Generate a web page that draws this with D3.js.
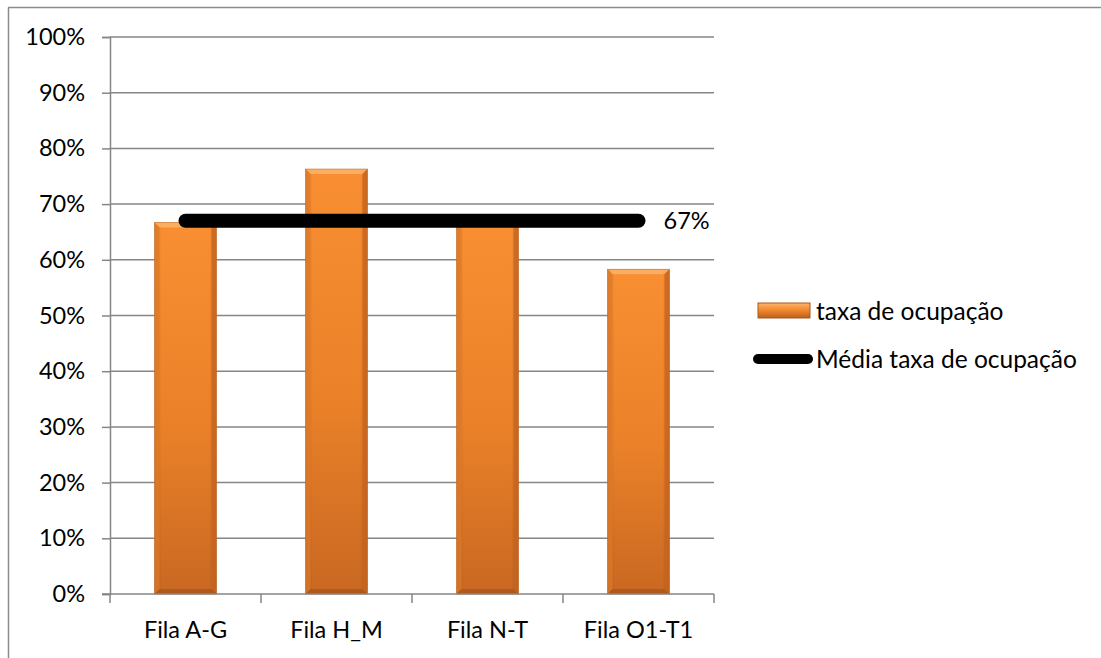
<!DOCTYPE html>
<html>
<head>
<meta charset="utf-8">
<script src="https://cdn.jsdelivr.net/npm/d3@7"></script>
<style>
  html, body { margin: 0; padding: 0; background: #fff; }
  svg { display: block; font-family: Lato, "Noto Sans", sans-serif; }
</style>
</head>
<body>
<svg id="chart" width="1101" height="658"></svg>
<script>
// Occupancy rate by row group
const categories = ["Fila A-G", "Fila H_M", "Fila N-T", "Fila O1-T1"];
const taxaOcupacao = [0.667, 0.763, 0.667, 0.583];
const mediaTaxa = [0.67, 0.67, 0.67, 0.67];
const yTicks = [0, 0.1, 0.2, 0.3, 0.4, 0.5, 0.6, 0.7, 0.8, 0.9, 1.0];
const seriesNames = ["taxa de ocupação", "Média taxa de ocupação"];

const svg = d3.select("#chart");
const W = 1101, H = 658;
const plot = { left: 110, right: 714, top: 37, bottom: 594 };
const fontSize = 23.5;
const legendFontSize = 24.5;
const axisColor = "#868686";

// chart frame (top and left edges visible)
svg.append("line").attr("x1", 8.5).attr("x2", 8.5).attr("y1", 7.5).attr("y2", H)
  .attr("stroke", "#8c8c8c").attr("stroke-width", 1.5);
svg.append("line").attr("x1", 8).attr("x2", W).attr("y1", 7.5).attr("y2", 7.5)
  .attr("stroke", "#8c8c8c").attr("stroke-width", 1.5);

const x = d3.scaleBand().domain(categories).range([plot.left, plot.right])
  .paddingInner(0.59).paddingOuter(0.295);
const y = d3.scaleLinear().domain([0, 1]).range([plot.bottom, plot.top]);

// gradients for bevelled bars
const defs = svg.append("defs");
const gBody = defs.append("linearGradient").attr("id", "barBody")
  .attr("x1", 0).attr("y1", 0).attr("x2", 0).attr("y2", 1);
gBody.append("stop").attr("offset", "0%").attr("stop-color", "#f98f32");
gBody.append("stop").attr("offset", "55%").attr("stop-color", "#ea8129");
gBody.append("stop").attr("offset", "100%").attr("stop-color", "#c96822");
const gSide = defs.append("linearGradient").attr("id", "barSide")
  .attr("x1", 0).attr("y1", 0).attr("x2", 1).attr("y2", 0);
gSide.append("stop").attr("offset", "0%").attr("stop-color", "#000").attr("stop-opacity", 0.12);
gSide.append("stop").attr("offset", "12%").attr("stop-color", "#000").attr("stop-opacity", 0);
gSide.append("stop").attr("offset", "88%").attr("stop-color", "#000").attr("stop-opacity", 0);
gSide.append("stop").attr("offset", "100%").attr("stop-color", "#000").attr("stop-opacity", 0.15);
const gLeg = defs.append("linearGradient").attr("id", "legBody")
  .attr("x1", 0).attr("y1", 0).attr("x2", 0).attr("y2", 1);
gLeg.append("stop").attr("offset", "0%").attr("stop-color", "#fbb66e");
gLeg.append("stop").attr("offset", "45%").attr("stop-color", "#f48a2e");
gLeg.append("stop").attr("offset", "100%").attr("stop-color", "#b8601f");

// gridlines + y axis
const yAxis = d3.axisLeft(y).tickValues(yTicks).tickFormat(d3.format(".0%"))
  .tickSize(8).tickPadding(17);
const yG = svg.append("g").attr("transform", `translate(${plot.left},0)`).call(yAxis);
yG.select(".domain").attr("stroke", axisColor).attr("stroke-width", 1.5);
yG.selectAll(".tick line").attr("stroke", axisColor).attr("stroke-width", 1.5);
yG.selectAll(".tick text").attr("font-size", fontSize).attr("fill", "#000")
  .attr("font-family", "Lato, sans-serif");
svg.append("g").selectAll("line").data(yTicks.filter(d => d > 0)).join("line")
  .attr("x1", plot.left).attr("x2", plot.right)
  .attr("y1", d => y(d)).attr("y2", d => y(d))
  .attr("stroke", axisColor).attr("stroke-width", 1.5);

// bars
const bevel = 5;
const bars = svg.append("g").selectAll("g").data(categories.map((c, i) => ({ c, v: taxaOcupacao[i] })))
  .join("g");
bars.append("rect")
  .attr("x", d => x(d.c)).attr("y", d => y(d.v))
  .attr("width", x.bandwidth()).attr("height", d => y(0) - y(d.v))
  .attr("fill", "url(#barBody)");
bars.append("rect")
  .attr("x", d => x(d.c)).attr("y", d => y(d.v))
  .attr("width", x.bandwidth()).attr("height", d => y(0) - y(d.v))
  .attr("fill", "url(#barSide)");
// top bevel
bars.append("path")
  .attr("d", d => {
    const x0 = x(d.c), x1 = x0 + x.bandwidth(), t = y(d.v);
    return `M${x0},${t}L${x1},${t}L${x1 - bevel},${t + bevel}L${x0 + bevel},${t + bevel}Z`;
  })
  .attr("fill", "#fbb066").attr("opacity", 0.9);
// left / right bevel
bars.append("path")
  .attr("d", d => {
    const x0 = x(d.c), t = y(d.v), b = y(0);
    return `M${x0},${t}L${x0 + bevel},${t + bevel}L${x0 + bevel},${b - bevel}L${x0},${b}Z`;
  })
  .attr("fill", "#e07a28").attr("opacity", 0.7);
bars.append("path")
  .attr("d", d => {
    const x1 = x(d.c) + x.bandwidth(), t = y(d.v), b = y(0);
    return `M${x1},${t}L${x1 - bevel},${t + bevel}L${x1 - bevel},${b - bevel}L${x1},${b}Z`;
  })
  .attr("fill", "#c8651f").attr("opacity", 0.8);
// bottom bevel
bars.append("path")
  .attr("d", d => {
    const x0 = x(d.c), x1 = x0 + x.bandwidth(), b = y(0);
    return `M${x0},${b}L${x1},${b}L${x1 - bevel},${b - bevel}L${x0 + bevel},${b - bevel}Z`;
  })
  .attr("fill", "#a9581c").attr("opacity", 0.85);
bars.append("rect")
  .attr("x", d => x(d.c)).attr("y", d => y(d.v))
  .attr("width", x.bandwidth()).attr("height", d => y(0) - y(d.v))
  .attr("fill", "none").attr("stroke", "#b8611f").attr("stroke-width", 0.8).attr("stroke-opacity", 0.6);

// x axis with ticks on category boundaries
const xG = svg.append("g");
xG.append("line").attr("x1", plot.left - 8).attr("x2", plot.right)
  .attr("y1", y(0)).attr("y2", y(0)).attr("stroke", axisColor).attr("stroke-width", 1.5);
const boundary = i => x(categories[0]) - x.paddingOuter() * x.step() + i * x.step();
xG.selectAll(".bt").data(d3.range(categories.length + 1)).join("line")
  .attr("x1", boundary).attr("x2", boundary)
  .attr("y1", y(0)).attr("y2", y(0) + 9)
  .attr("stroke", axisColor).attr("stroke-width", 1.5);
xG.selectAll("text").data(categories).join("text")
  .attr("x", d => x(d) + x.bandwidth() / 2).attr("y", y(0) + 44)
  .attr("text-anchor", "middle").attr("font-size", fontSize).text(d => d);

// average line
const line = d3.line().x((d, i) => x(categories[i]) + x.bandwidth() / 2).y(d => y(d));
svg.append("path").datum(mediaTaxa).attr("d", line)
  .attr("fill", "none").attr("stroke", "#000").attr("stroke-width", 14)
  .attr("stroke-linecap", "round");
const last = mediaTaxa.length - 1;
svg.append("text")
  .attr("x", x(categories[last]) + x.bandwidth() / 2 + 25)
  .attr("y", y(mediaTaxa[last]) + 8)
  .attr("font-size", fontSize).text(d3.format(".0%")(mediaTaxa[last]));

// legend
const lg = svg.append("g");
lg.append("rect").attr("x", 758).attr("y", 303).attr("width", 52).attr("height", 15)
  .attr("fill", "url(#legBody)").attr("stroke", "#a9581c").attr("stroke-width", 1);
lg.append("text").attr("x", 816).attr("y", 320).attr("font-size", legendFontSize).text(seriesNames[0]);
lg.append("line").attr("x1", 758).attr("x2", 808).attr("y1", 359).attr("y2", 359)
  .attr("stroke", "#000").attr("stroke-width", 10).attr("stroke-linecap", "round");
lg.append("text").attr("x", 816).attr("y", 368).attr("font-size", legendFontSize).text(seriesNames[1]);
</script>
</body>
</html>
